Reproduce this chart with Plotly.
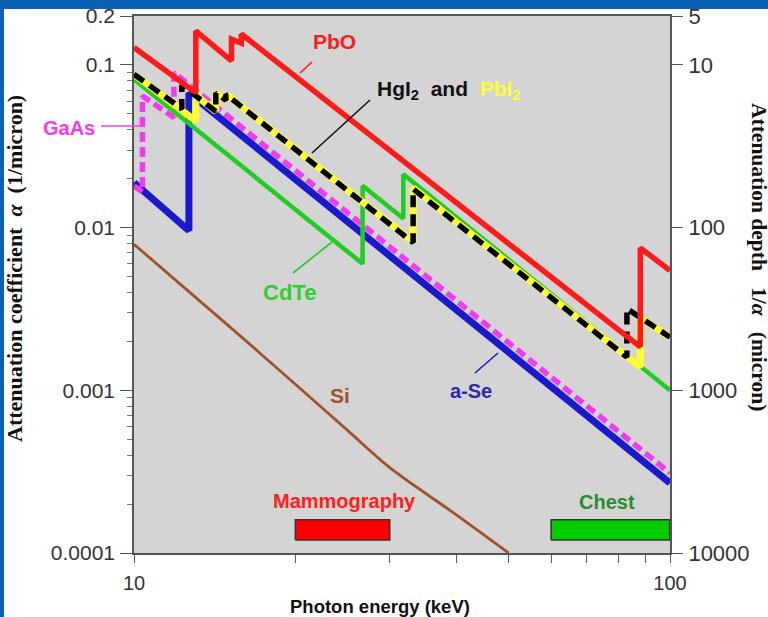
import plotly.graph_objects as go

# ---------------- data ----------------
pbo_e = [10, 13.04, 13.04, 15.2, 15.2, 15.86, 15.86, 88.0, 88.0, 100]
pbo_a = [0.128, 0.0676, 0.162, 0.106, 0.144, 0.136, 0.155, 0.00185, 0.0075, 0.00545]

hgi2_e = [10, 12.28, 12.28, 14.21, 14.21, 14.84, 14.84, 33.17, 33.17, 83.1, 83.1, 100]
hgi2_a = [0.0877, 0.0537, 0.0753, 0.0518, 0.0673, 0.0607, 0.066, 0.0081, 0.0173, 0.0016, 0.00318, 0.00212]

pbi2_e = [10, 13.04, 13.04, 14.21, 14.21, 14.84, 14.84, 33.17, 33.17, 88.0, 88.0, 100]
pbi2_a = [0.0877, 0.0453, 0.0654, 0.0518, 0.0673, 0.0607, 0.066, 0.0082, 0.0175, 0.00139, 0.0028, 0.00212]

gaas_e = [10, 10.37, 10.37, 11.87, 11.87, 100]
gaas_a = [0.018, 0.0166, 0.0645, 0.0475, 0.0898, 0.00031]

ase_e = [10, 12.66, 12.66, 100]
ase_a = [0.0189, 0.0096, 0.0673, 0.000269]

cdte_e = [10, 26.7, 26.7, 31.8, 31.8, 100]
cdte_a = [0.0817, 0.0060, 0.0181, 0.0114, 0.0213, 0.00100]

si_e = [10, 15, 20, 25, 30, 40, 50]
si_a = [0.0079, 0.0025, 0.00109, 0.000569, 0.000335, 0.000171, 0.0001]

mammo_e = [20, 30]
chest_e = [60, 100]
band_a = [1.2e-4, 1.6e-4]

x_tickvals = [10, 20, 30, 40, 50, 60, 70, 80, 90, 100]
x_ticktext = ["10", "", "", "", "", "", "", "", "", "100"]
y_tickvals = [1e-4, 1e-3, 1e-2, 0.1, 0.2]
y_ticktext = ["0.0001", "0.001", "0.01", "0.1", "0.2"]
depth_ticktext = ["10000", "1000", "100", "10", "5"]
y_minor = [m * 10 ** k for k in (-4, -3, -2) for m in range(2, 10)]

# ---------------- layout geometry ----------------
W, H = 768, 617
L, R, T, B = 134, 98, 16, 64
PW, PH = W - L - R, H - T - B


def px(x):
    return (x - L) / PW


def py(y):
    return (H - B - y) / PH


RED = "#ff1a1a"
GREEN = "#22cc22"
BLUE = "#1a1acc"
MAGENTA = "#f03cf0"
YELLOW = "#ffff33"
BROWN = "#a0522d"
FRAME = "#0a62b4"
PLOTBG = "#d4d4d4"

fig = go.Figure()


def band(xs, color):
    fig.add_trace(go.Scatter(
        x=[xs[0], xs[1], xs[1], xs[0], xs[0]],
        y=[band_a[0], band_a[0], band_a[1], band_a[1], band_a[0]],
        mode="lines", fill="toself", fillcolor=color,
        line=dict(color="#333333", width=1.5), hoverinfo="skip"))


band(mammo_e, "#ff0000")
band(chest_e, "#00cc00")

fig.add_trace(go.Scatter(x=ase_e, y=ase_a, mode="lines",
                         line=dict(color=BLUE, width=7)))
fig.add_trace(go.Scatter(x=gaas_e, y=gaas_a, mode="lines",
                         line=dict(color=MAGENTA, width=5.5, dash="10px,5px")))
fig.add_trace(go.Scatter(x=cdte_e, y=cdte_a, mode="lines",
                         line=dict(color=GREEN, width=4.5)))
fig.add_trace(go.Scatter(x=pbi2_e, y=pbi2_a, mode="lines",
                         line=dict(color=YELLOW, width=7)))
fig.add_trace(go.Scatter(x=hgi2_e, y=hgi2_a, mode="lines",
                         line=dict(color="black", width=5.5, dash="12px,7px")))
fig.add_trace(go.Scatter(x=pbo_e, y=pbo_a, mode="lines",
                         line=dict(color=RED, width=5.5)))
fig.add_trace(go.Scatter(x=si_e, y=si_a, mode="lines", yaxis="y2",
                         line=dict(color=BROWN, width=2.8, shape="spline", smoothing=0.8)))

yrange = [-4, -0.69897]
ytickfont = dict(family="Liberation Sans, Arial", size=21, color="#333333")
y2tickfont = dict(family="Liberation Sans, Arial", size=22, color="#333333")

fig.update_layout(
    width=W, height=H,
    margin=dict(l=L, r=R, t=T, b=B, autoexpand=False),
    paper_bgcolor=FRAME,
    plot_bgcolor=PLOTBG,
    showlegend=False,
    xaxis=dict(type="log", range=[1, 2], tickvals=x_tickvals, ticktext=x_ticktext,
               ticks="outside", ticklen=8, tickcolor="#555", tickwidth=1.2,
               showgrid=False, zeroline=False, showline=True, linecolor="#555",
               linewidth=1.5, mirror=True, automargin=False,
               tickfont=dict(family="Liberation Sans, Arial", size=20, color="#333333"),
               ticklabelstandoff=3),
    yaxis=dict(type="log", range=yrange, tickvals=y_tickvals, ticktext=y_ticktext,
               ticks="outside", ticklen=12, tickcolor="#555", tickwidth=1.2,
               minor=dict(tickvals=y_minor, ticks="outside", ticklen=5, tickcolor="#777", showgrid=False),
               showgrid=False, zeroline=False, showline=True, linecolor="#555",
               linewidth=1.5, mirror=True, automargin=False, tickfont=ytickfont, ticklabelstandoff=1),
    yaxis2=dict(type="log", range=yrange, overlaying="y", side="right",
                tickvals=y_tickvals, ticktext=depth_ticktext,
                ticks="outside", ticklen=12, tickcolor="#555", tickwidth=1.2,
                showgrid=False, zeroline=False, showline=False, automargin=False,
                tickfont=y2tickfont, ticklabelstandoff=1),
)

bold = "Liberation Sans, Arial"
serif = "Liberation Serif, Times New Roman"
ann = [
    ("PbO", 334, 42, RED, 21, "center"),
    ("HgI<sub>2</sub>  and  <span style='color:%s'>PbI<sub>2</sub></span>" % YELLOW, 375, 90, "#111111", 21, "left"),
    ("CdTe", 289, 292, "#33cc33", 22, "center"),
    ("a-Se", 471, 391, "#2a2aa8", 20, "center"),
    ("Si", 340, 395, BROWN, 21, "center"),
    ("GaAs", 69, 128, MAGENTA, 20, "center"),
    ("Mammography", 344, 501, "#ff2020", 20, "center"),
    ("Chest", 607, 502, "#2e8b2e", 20, "center"),
]
annotations = []
for text, x, y, c, s, anchor in ann:
    annotations.append(dict(text="<b>%s</b>" % text, x=px(x), y=py(y), xref="paper", yref="paper",
                            xanchor=anchor, yanchor="middle", showarrow=False,
                            font=dict(family=bold, size=s, color=c)))
annotations.append(dict(text="<b>Photon energy (keV)</b>", x=px(380), y=py(606), xref="paper", yref="paper",
                        xanchor="center", yanchor="middle", showarrow=False,
                        font=dict(family=bold, size=18.5, color="#111111")))
annotations.append(dict(text="<b>Attenuation coefficient  <i>α</i>  (1/micron)</b>", x=px(14), y=py(269),
                        xref="paper", yref="paper", xanchor="center", yanchor="middle", showarrow=False,
                        textangle=-90, font=dict(family=serif, size=22, color="#111111")))
annotations.append(dict(text="<b>Attenuation depth   1/<i>α</i>   (micron)</b>", x=px(759), y=py(257),
                        xref="paper", yref="paper", xanchor="center", yanchor="middle", showarrow=False,
                        textangle=90, font=dict(family=serif, size=21.5, color="#111111")))

pointers = [
    ((300, 73), (312, 62), RED),
    ((312, 153), (370, 100), "#111111"),
    ((293, 273), (332, 242), GREEN),
    ((475, 373), (498, 353), BLUE),
    ((101, 126), (141, 126), MAGENTA),
]
shapes = [
    # white page inside the blue frame (top band, 4 px left band)
    dict(type="rect", xref="paper", yref="paper", x0=px(4), x1=px(800), y0=py(650), y1=py(9),
         fillcolor="white", line=dict(width=0), layer="below"),
    # plot area background
    dict(type="rect", xref="paper", yref="paper", x0=0, x1=1, y0=0, y1=1,
         fillcolor=PLOTBG, line=dict(width=0), layer="below"),
]
for (x0, y0), (x1, y1), c in pointers:
    shapes.append(dict(type="line", xref="paper", yref="paper", x0=px(x0), y0=py(y0), x1=px(x1), y1=py(y1),
                       line=dict(color=c, width=1.6)))

fig.update_layout(annotations=annotations, shapes=shapes)

frame_js = (
    "document.documentElement.style.margin='0';"
    "document.body.style.margin='0';document.body.style.padding='0';"
    "var fb=document.createElement('div');"
    "fb.style.cssText='position:fixed;left:0;top:0;width:100%%;height:8px;background:%s;z-index:2147483647;pointer-events:none;';"
    "document.body.appendChild(fb);" % FRAME
)
fig.write_html("out.html", config={"displayModeBar": False}, post_script=frame_js)
